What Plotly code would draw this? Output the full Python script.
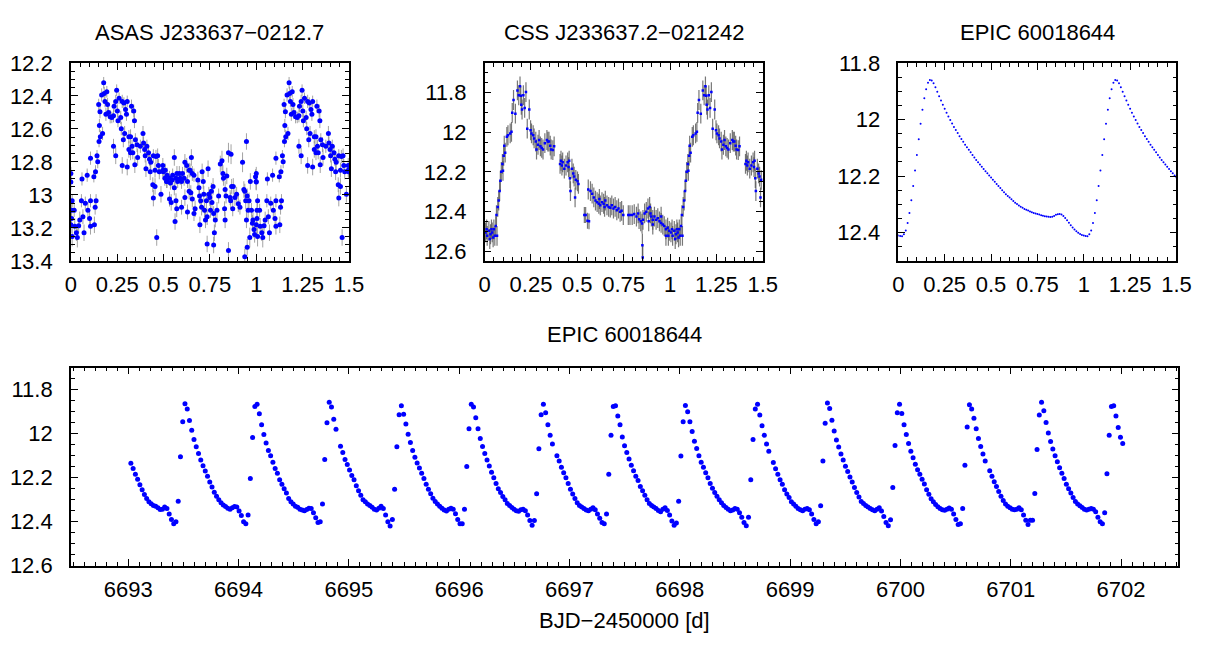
import plotly.graph_objects as go

# ---------------- ASAS J233637-0212.7 : (phase, V mag, error) ----------------
asas_obs = [
 (0.000,12.870,0.04),(0.000,12.922,0.05),(0.007,13.035,0.04),(0.004,13.093,0.05),(0.004,13.142,0.045),
 (0.000,13.181,0.05),(0.007,13.252,0.06),(0.018,13.093,0.04),(0.021,13.190,0.05),(0.030,13.229,0.05),
 (0.035,13.258,0.06),(0.042,13.186,0.045),(0.048,13.151,0.05),(0.057,13.035,0.04),(0.060,12.903,0.04),
 (0.065,13.132,0.045),(0.071,13.229,0.05),(0.078,13.050,0.04),(0.088,12.880,0.04),(0.092,13.093,0.05),
 (0.101,13.142,0.045),(0.106,13.035,0.04),(0.106,12.777,0.04),(0.106,13.190,0.05),(0.124,12.889,0.035),
 (0.127,13.181,0.05),(0.131,13.074,0.045),(0.136,13.035,0.04),(0.133,12.860,0.04),(0.141,12.763,0.035),
 (0.145,12.798,0.04),(0.152,12.676,0.035),(0.154,12.579,0.04),(0.159,12.647,0.04),(0.150,12.452,0.035),
 (0.157,12.495,0.04),(0.166,12.394,0.04),(0.177,12.320,0.035),(0.171,12.627,0.04),(0.180,12.385,0.04),
 (0.184,12.433,0.035),(0.189,12.511,0.04),(0.194,12.375,0.035),(0.198,12.452,0.04),(0.203,12.501,0.035),
 (0.212,12.526,0.04),(0.221,12.530,0.035),(0.230,12.520,0.04),(0.233,12.462,0.035),(0.242,12.433,0.04),
 (0.247,12.365,0.035),(0.251,12.491,0.04),(0.230,12.705,0.045),(0.242,12.763,0.05),(0.254,12.550,0.04),
 (0.260,12.414,0.035),(0.269,12.530,0.04),(0.277,12.433,0.04),(0.283,12.666,0.045),(0.277,12.821,0.05),
 (0.286,12.443,0.035),(0.295,12.482,0.04),(0.300,12.511,0.04),(0.304,12.433,0.035),(0.272,12.598,0.04),
 (0.290,12.627,0.045),(0.313,12.647,0.04),(0.322,12.647,0.045),(0.327,12.462,0.04),(0.339,12.491,0.04),
 (0.343,12.550,0.045),(0.330,12.705,0.04),(0.313,12.724,0.05),(0.304,12.831,0.05),(0.322,12.744,0.045),
 (0.334,12.744,0.04),(0.345,12.817,0.05),(0.348,12.666,0.04),(0.357,12.695,0.045),(0.360,12.773,0.05),
 (0.375,12.705,0.04),(0.389,12.627,0.045),(0.392,12.685,0.04),(0.398,12.724,0.045),(0.401,12.763,0.04),
 (0.405,12.841,0.05),(0.410,12.705,0.04),(0.419,12.744,0.045),(0.424,12.783,0.04),(0.428,12.860,0.05),
 (0.431,12.802,0.045),(0.445,12.763,0.04),(0.454,12.850,0.045),(0.445,13.019,0.05),(0.459,12.767,0.04),
 (0.468,12.763,0.045),(0.472,12.821,0.04),(0.477,12.860,0.045),(0.486,12.996,0.05),(0.498,12.860,0.04),
 (0.507,12.899,0.045),(0.516,12.918,0.04),(0.463,13.258,0.05),(0.442,12.938,0.045),(0.454,12.948,0.05),
 (0.496,12.850,0.04),(0.496,12.821,0.045),(0.509,12.850,0.04),(0.519,12.880,0.045),(0.519,12.918,0.04),
 (0.532,12.899,0.045),(0.537,12.928,0.04),(0.546,12.909,0.045),(0.549,12.880,0.04),(0.558,12.773,0.05),
 (0.558,12.957,0.045),(0.567,12.899,0.04),(0.572,12.870,0.045),(0.576,12.918,0.04),(0.585,12.870,0.045),
 (0.590,12.899,0.04),(0.597,12.918,0.045),(0.602,12.870,0.04),(0.611,12.899,0.045),(0.615,12.802,0.05),
 (0.625,12.821,0.045),(0.629,12.918,0.04),(0.638,12.850,0.045),(0.643,12.850,0.04),(0.650,12.773,0.05),
 (0.655,12.870,0.045),(0.664,12.880,0.04),(0.532,13.025,0.045),(0.541,13.045,0.05),(0.567,13.035,0.045),
 (0.571,13.084,0.05),(0.562,13.161,0.05),(0.597,13.074,0.045),(0.615,13.016,0.05),(0.629,13.103,0.045),
 (0.638,12.977,0.05),(0.647,12.986,0.045),(0.655,13.025,0.05),(0.664,13.113,0.045),(0.670,13.084,0.05),
 (0.685,12.909,0.05),(0.691,12.957,0.045),(0.694,13.006,0.05),(0.696,13.181,0.05),(0.700,13.035,0.045),
 (0.705,13.074,0.05),(0.708,12.860,0.05),(0.714,12.918,0.045),(0.717,12.996,0.05),(0.721,13.093,0.045),
 (0.726,13.151,0.05),(0.731,13.035,0.045),(0.735,13.132,0.05),(0.740,12.841,0.05),(0.744,12.996,0.045),
 (0.749,13.016,0.05),(0.753,13.093,0.045),(0.758,12.977,0.05),(0.761,13.045,0.045),(0.767,12.948,0.05),
 (0.770,13.113,0.045),(0.774,13.229,0.05),(0.735,13.297,0.05),(0.770,13.303,0.05),(0.779,13.151,0.045),
 (0.788,13.093,0.05),(0.797,13.006,0.045),(0.806,12.812,0.05),(0.815,12.792,0.06),(0.820,12.870,0.05),
 (0.823,12.899,0.045),(0.832,12.967,0.05),(0.829,13.084,0.045),(0.832,13.151,0.05),(0.837,13.006,0.045),
 (0.841,12.885,0.05),(0.850,12.744,0.06),(0.864,12.753,0.06),(0.850,13.336,0.05),(0.859,13.016,0.045),
 (0.862,13.035,0.05),(0.867,12.948,0.045),(0.876,12.948,0.05),(0.873,13.084,0.045),(0.885,13.016,0.05),
 (0.894,12.996,0.045),(0.903,13.054,0.05),(0.912,13.074,0.045),(0.926,12.802,0.06),(0.933,12.967,0.05),
 (0.938,12.977,0.045),(0.943,13.035,0.05),(0.947,12.676,0.05),(0.951,13.006,0.045),(0.947,13.151,0.05),
 (0.956,13.093,0.045),(0.961,13.035,0.05),(0.965,13.258,0.06),(0.968,12.918,0.05),(0.974,13.093,0.045),
 (0.979,13.171,0.05),(0.982,13.151,0.045),(0.988,13.210,0.05),(0.991,13.239,0.05),(0.996,12.889,0.045),
 (0.999,12.918,0.05),(0.938,13.375,0.05),(0.951,13.317,0.05),
]

# ---------------- CSS J233637.2-021242 : (phase, V mag, error) ----------------
css_obs = [
 (0.005,12.506,0.05),(0.014,12.523,0.05),(0.023,12.498,0.05),(0.032,12.515,0.05),(0.041,12.506,0.05),
 (0.046,12.531,0.05),(0.050,12.490,0.05),(0.055,12.523,0.05),(0.060,12.474,0.05),(0.067,12.523,0.05),
 (0.028,12.539,0.05),(0.037,12.490,0.05),(0.011,12.490,0.05),(0.064,12.418,0.05),(0.071,12.377,0.05),
 (0.076,12.345,0.05),(0.081,12.297,0.05),(0.085,12.245,0.05),(0.090,12.200,0.05),(0.096,12.160,0.05),
 (0.103,12.119,0.05),(0.106,12.068,0.05),(0.111,12.103,0.05),(0.099,12.195,0.05),(0.120,12.023,0.05),
 (0.126,12.015,0.05),(0.138,12.006,0.05),(0.145,11.998,0.05),(0.149,11.902,0.05),(0.156,11.837,0.05),
 (0.166,11.906,0.05),(0.177,11.789,0.05),(0.184,11.813,0.05),(0.191,11.768,0.05),(0.195,11.816,0.05),
 (0.198,11.861,0.05),(0.202,11.885,0.05),(0.209,11.813,0.05),(0.216,11.877,0.05),(0.223,11.797,0.05),
 (0.230,11.982,0.05),(0.241,11.885,0.05),(0.248,11.990,0.05),(0.253,12.006,0.05),(0.262,12.015,0.05),
 (0.267,12.031,0.05),(0.276,12.047,0.05),(0.280,12.087,0.05),(0.288,12.063,0.05),(0.294,12.039,0.05),
 (0.301,12.071,0.05),(0.308,12.079,0.05),(0.315,12.087,0.05),(0.325,12.055,0.05),(0.336,12.039,0.05),
 (0.341,12.047,0.05),(0.347,12.047,0.05),(0.354,12.068,0.05),(0.359,12.087,0.05),(0.368,12.090,0.05),
 (0.375,12.071,0.05),(0.407,12.160,0.05),(0.412,12.144,0.05),(0.417,12.168,0.05),(0.421,12.152,0.05),
 (0.430,12.184,0.05),(0.439,12.168,0.05),(0.448,12.152,0.05),(0.453,12.176,0.05),(0.456,12.144,0.05),
 (0.460,12.232,0.05),(0.463,12.297,0.05),(0.471,12.184,0.05),(0.478,12.208,0.05),(0.483,12.224,0.05),
 (0.492,12.240,0.05),(0.501,12.248,0.05),(0.488,12.329,0.05),(0.506,12.261,0.05),(0.538,12.418,0.04),
 (0.545,12.418,0.04),(0.555,12.447,0.04),(0.563,12.450,0.04),(0.559,12.289,0.05),(0.571,12.297,0.05),
 (0.580,12.310,0.05),(0.589,12.329,0.05),(0.598,12.345,0.05),(0.607,12.353,0.05),(0.616,12.361,0.05),
 (0.619,12.337,0.05),(0.624,12.369,0.05),(0.633,12.353,0.05),(0.642,12.361,0.05),(0.647,12.377,0.05),
 (0.651,12.345,0.05),(0.660,12.369,0.05),(0.669,12.377,0.05),(0.678,12.381,0.05),(0.686,12.369,0.05),
 (0.695,12.385,0.05),(0.704,12.377,0.05),(0.713,12.394,0.05),(0.722,12.385,0.05),(0.731,12.402,0.05),
 (0.739,12.397,0.05),(0.748,12.418,0.05),(0.775,12.418,0.05),(0.784,12.418,0.05),(0.796,12.418,0.05),
 (0.807,12.413,0.05),(0.819,12.426,0.05),(0.828,12.410,0.05),(0.833,12.439,0.05),(0.842,12.450,0.05),
 (0.849,12.461,0.05),(0.854,12.442,0.05),(0.851,12.571,0.06),(0.853,12.632,0.06),(0.863,12.410,0.05),
 (0.872,12.402,0.05),(0.881,12.385,0.05),(0.890,12.377,0.05),(0.895,12.410,0.05),(0.899,12.426,0.05),
 (0.907,12.442,0.05),(0.916,12.426,0.05),(0.925,12.442,0.05),(0.934,12.434,0.05),(0.943,12.450,0.05),
 (0.952,12.458,0.05),(0.961,12.466,0.05),(0.969,12.474,0.05),(0.978,12.490,0.05),(0.987,12.482,0.05),
 (0.996,12.498,0.05),(0.978,12.523,0.05),(0.991,12.523,0.05),(0.952,12.426,0.05),(0.885,12.450,0.05),
 (0.907,12.466,0.05),
]

# ---------------- EPIC 60018644, phase-folded light curve (phase step 0.01) ----------------
epic_fold_phase = [round(0.01 * i, 2) for i in range(101)]
epic_fold_mag = [
 12.410,12.412,12.413,12.406,12.392,12.366,12.330,12.285,12.235,12.180,
 12.125,12.070,12.015,11.965,11.925,11.893,11.870,11.860,11.862,11.872,
 11.886,11.902,11.918,11.933,11.948,11.962,11.976,11.989,12.002,12.014,
 12.026,12.037,12.048,12.059,12.069,12.079,12.089,12.098,12.107,12.116,
 12.125,12.134,12.143,12.151,12.159,12.167,12.175,12.183,12.190,12.198,
 12.205,12.213,12.220,12.228,12.235,12.242,12.250,12.257,12.264,12.270,
 12.276,12.282,12.288,12.294,12.299,12.304,12.308,12.312,12.316,12.319,
 12.322,12.325,12.328,12.330,12.332,12.334,12.336,12.338,12.340,12.342,
 12.343,12.344,12.345,12.344,12.341,12.337,12.335,12.334,12.336,12.341,
 12.348,12.356,12.365,12.374,12.382,12.389,12.395,12.400,12.405,12.408,
 12.410,
]

# ---------------- EPIC 60018644 (K2 long cadence time series) ----------------
epic_t0 = 6693.024          # BJD-2450000 of first cadence
epic_cadence = 0.020434     # d (29.4 min)
epic_mag = [
 12.134,12.158,12.184,12.207,12.232,12.255,12.277,12.295,12.310,12.318,12.326,12.330,12.337,12.345,12.343,12.333,12.340,12.365,12.390,12.410,12.400,12.307,12.105,11.946,
 11.864,11.888,11.940,11.985,12.026,12.060,12.090,12.120,12.146,12.170,12.194,12.220,12.242,12.266,12.285,12.300,12.314,12.324,12.331,12.339,12.343,12.337,12.331,12.333,12.352,12.372,12.400,12.410,12.370,12.204,12.017,11.876,
 11.866,11.910,11.960,12.004,12.042,12.076,12.100,12.130,12.158,12.180,12.210,12.230,12.250,12.270,12.295,12.310,12.320,12.330,12.335,12.343,12.347,12.350,12.345,12.339,12.340,12.360,12.382,12.404,12.400,12.320,12.117,11.950,
 11.857,11.879,11.934,11.980,None,12.057,12.086,12.117,12.140,12.165,12.190,12.210,12.237,12.260,12.280,12.300,12.310,12.320,12.327,12.334,12.343,12.347,12.339,12.330,12.340,12.370,12.400,12.420,12.390,12.253,12.060,11.914,
 11.873,11.912,11.956,12.003,12.040,12.076,12.107,12.133,12.156,12.180,12.204,12.230,12.253,12.273,12.293,12.308,12.320,12.330,12.339,12.347,12.352,12.343,12.339,12.343,12.364,12.390,12.410,12.410,12.343,12.149,11.978,
 11.866,11.879,11.928,11.978,12.022,12.058,12.090,12.120,12.147,12.175,12.200,12.226,12.250,12.267,12.286,12.300,12.317,12.327,12.336,12.343,12.350,12.353,12.346,12.343,12.350,12.370,12.395,12.416,12.395,12.273,12.069,11.914,
 11.866,11.905,11.959,12.007,12.047,None,12.100,12.124,12.153,12.178,12.200,12.226,12.253,12.274,12.295,12.314,12.326,12.333,12.340,12.347,12.350,12.343,12.337,12.346,12.365,12.384,12.404,12.410,12.365,12.185,12.007,11.876,
 11.873,11.920,11.960,12.015,12.055,12.086,12.115,12.143,12.168,12.193,12.213,12.240,12.260,12.280,12.300,12.317,12.326,12.333,12.340,12.349,12.355,12.343,12.337,12.349,12.370,12.397,12.416,12.406,12.307,12.102,11.946,
 11.872,11.900,11.946,11.990,12.034,12.067,12.100,12.130,12.153,12.178,12.200,12.226,12.248,12.267,12.285,12.300,12.314,12.326,12.336,12.343,12.350,12.347,12.340,12.343,12.360,12.380,12.404,12.418,12.380,12.210,12.026,11.888,
 11.866,11.915,11.964,12.007,12.047,12.080,None,12.131,12.160,12.185,12.209,12.230,12.255,12.274,12.290,12.310,12.320,12.330,12.340,12.346,12.350,12.343,12.340,12.346,12.365,12.390,12.410,12.400,12.328,12.124,11.953,
 11.861,11.886,11.939,11.988,12.029,12.061,12.092,12.120,12.148,12.172,12.197,12.220,12.245,12.267,12.288,12.308,12.317,12.326,12.333,12.340,12.346,12.350,12.343,12.337,12.352,12.377,12.404,12.419,12.391,12.245,12.054,11.905,
 11.866,11.908,11.959,12.004,12.045,12.080,12.110,12.139,12.164,12.185,12.207,12.229,12.255,12.275,12.296,12.310,12.322,12.332,12.340,12.346,12.348,12.343,12.338,12.343,12.365,12.390,12.413,12.409,12.340,12.143,11.970,
 11.869,11.888,11.930,11.978,12.022,12.058,12.092,12.124,None,12.168,12.193,12.219,12.240,12.263,12.285,12.304,12.320,12.330,12.337,12.343,12.346,12.343,12.337,12.346,12.370,12.394,12.413,12.394,12.394,12.272,12.072,11.915,
 11.857,11.896,11.949,11.997,12.036,12.070,12.100,12.128,12.155,12.180,12.204,12.230,12.250,12.270,12.290,12.308,12.320,12.328,12.336,12.343,12.347,12.343,12.340,12.343,12.355,12.380,12.400,12.410,12.360,12.182,12.007,11.876,
 11.873,11.920,11.972,12.016,12.045,
]

# ---------------- titles / ticks ----------------
titles = ["ASAS J233637\u22120212.7", "CSS J233637.2\u2212021242", "EPIC 60018644", "EPIC 60018644"]
xlabel_bottom = "BJD\u22122450000 [d]"
phase_ticks = [0, 0.25, 0.5, 0.75, 1, 1.25, 1.5]
phase_ticktext = ["0", "0.25", "0.5", "0.75", "1", "1.25", "1.5"]
asas_yticks = [12.2, 12.4, 12.6, 12.8, 13.0, 13.2, 13.4]
asas_yticktext = ["12.2", "12.4", "12.6", "12.8", "13", "13.2", "13.4"]
css_yticks = [11.8, 12.0, 12.2, 12.4, 12.6]
css_yticktext = ["11.8", "12", "12.2", "12.4", "12.6"]
epic_yticks = [11.8, 12.0, 12.2, 12.4]
epic_yticktext = ["11.8", "12", "12.2", "12.4"]
lc_yticks = [11.8, 12.0, 12.2, 12.4, 12.6]
lc_yticktext = ["11.8", "12", "12.2", "12.4", "12.6"]
lc_xticks = list(range(6693, 6703))

# ---------------- derived arrays (phase 0-1 repeated up to 1.5) ----------------
def fold_dup(obs):
    x, y, e = [], [], []
    for ph, m, err in obs:
        x.append(ph); y.append(m); e.append(err)
    for ph, m, err in obs:
        if ph + 1 <= 1.5:
            x.append(ph + 1); y.append(m); e.append(err)
    return x, y, e

ax_, ay_, ae_ = fold_dup(asas_obs)
cx_, cy_, ce_ = fold_dup(css_obs)
fx = list(epic_fold_phase) + [p + 1 for p in epic_fold_phase if 0 < p <= 0.5]
fy = list(epic_fold_mag) + [m for p, m in zip(epic_fold_phase, epic_fold_mag) if 0 < p <= 0.5]
epic_t = [epic_t0 + i * epic_cadence for i in range(len(epic_mag))]

BLUE = "#0000ff"
FONT = "Liberation Sans, Arial, Helvetica, sans-serif"

fig = go.Figure()
fig.add_trace(go.Scatter(x=ax_, y=ay_, mode="markers", xaxis="x", yaxis="y",
    marker=dict(color=BLUE, size=5, line=dict(width=0)),
    error_y=dict(type="data", array=ae_, color="rgba(140,140,140,0.8)", thickness=1, width=0)))
fig.add_trace(go.Scatter(x=cx_, y=cy_, mode="markers", xaxis="x2", yaxis="y2",
    marker=dict(color=BLUE, size=2.5, symbol="square", line=dict(width=0)),
    error_y=dict(type="data", array=ce_, color="rgba(85,85,85,0.8)", thickness=1.2, width=0)))
fig.add_trace(go.Scatter(x=fx, y=fy, mode="markers", xaxis="x3", yaxis="y3",
    marker=dict(color=BLUE, size=2, line=dict(width=0))))
fig.add_trace(go.Scatter(x=epic_t, y=epic_mag, mode="markers", xaxis="x4", yaxis="y4",
    marker=dict(color=BLUE, size=5, line=dict(width=0))))

W, H = 1218, 645
def dx(a, b): return [a / W, b / W]
def dy(top, bot): return [1 - bot / H, 1 - top / H]

common = dict(showline=True, linecolor="black", linewidth=1.5, mirror="allticks",
              ticks="inside", ticklen=7, tickwidth=1, tickcolor="black",
              showgrid=False, zeroline=False, tickmode="array",
              tickfont=dict(family=FONT, size=22, color="black"))

def xa(dom, anchor, rng, tv, tt, mdt, t0):
    d = dict(common); d.update(domain=dom, anchor=anchor, range=rng, tickvals=tv, ticktext=tt,
        ticklabelstandoff=3,
        minor=dict(ticks="inside", ticklen=4, tickwidth=1, tickcolor="black", dtick=mdt, tick0=t0, showgrid=False))
    return d

def ya(dom, anchor, rng, tv, tt, mdt, t0):
    d = dict(common); d.update(domain=dom, anchor=anchor, range=rng, tickvals=tv, ticktext=tt,
        ticklabelstandoff=12,
        minor=dict(ticks="inside", ticklen=4, tickwidth=1, tickcolor="black", dtick=mdt, tick0=t0, showgrid=False))
    return d

top = dy(53, 259)
bot = dy(370, 576)
fig.update_layout(
    width=W, height=H, margin=dict(l=0, r=0, t=0, b=0),
    paper_bgcolor="white", plot_bgcolor="white", showlegend=False,
    font=dict(family=FONT, color="black"),
    xaxis=xa(dx(66, 349), "y", [0, 1.5], phase_ticks, phase_ticktext, 0.05, 0),
    yaxis=ya(top, "x", [13.4, 12.2], asas_yticks, asas_yticktext, 0.05, 12.2),
    xaxis2=xa(dx(487, 770), "y2", [0, 1.5], phase_ticks, phase_ticktext, 0.05, 0),
    yaxis2=ya(top, "x2", [12.65, 11.65], css_yticks, css_yticktext, 0.05, 11.8),
    xaxis3=xa(dx(908, 1191), "y3", [0, 1.5], phase_ticks, phase_ticktext, 0.05, 0),
    yaxis3=ya(top, "x3", [12.5, 11.8], epic_yticks, epic_yticktext, 0.05, 11.8),
    xaxis4=xa(dx(66, 1193), "y4", [6692.48, 6702.52], lc_xticks, [str(v) for v in lc_xticks], 0.1, 6693),
    yaxis4=ya(bot, "x4", [12.6, 11.7], lc_yticks, lc_yticktext, 0.05, 11.8),
)

ann = []
for cx, cy, txt in [((66 + 349) / 2, 21, titles[0]), ((487 + 770) / 2, 21, titles[1]),
                    ((908 + 1191) / 2, 21, titles[2]), ((66 + 1193) / 2, 336, titles[3]),
                    ((66 + 1193) / 2, 633, xlabel_bottom)]:
    ann.append(dict(x=cx / W, y=1 - cy / H, xref="paper", yref="paper", text=txt, showarrow=False,
                    xanchor="center", yanchor="middle", font=dict(family=FONT, size=22, color="black")))
fig.update_layout(annotations=ann)

fig.write_html("out.html", config={"displayModeBar": False},
               post_script="document.body.style.margin='0px';")
